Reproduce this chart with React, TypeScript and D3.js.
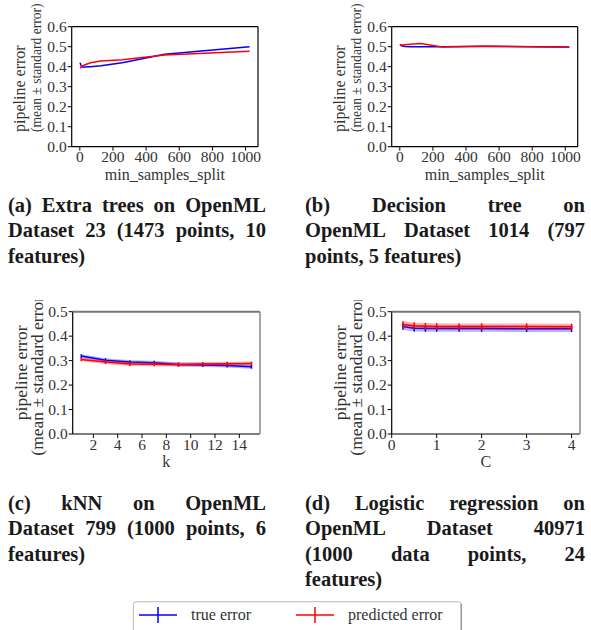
import React from "react";
import * as d3 from "d3";

// ---------- data ----------
const splitsA = [2, 4, 8, 16, 32, 64, 128, 256, 512, 1024];
const trueA = [0.42, 0.413, 0.404, 0.398, 0.398, 0.4, 0.405, 0.42, 0.462, 0.5];
const predA = [0.392, 0.394, 0.398, 0.404, 0.41, 0.42, 0.428, 0.435, 0.459, 0.477];

const splitsB = [2, 4, 8, 16, 32, 64, 128, 256, 512, 1024];
const trueB = [0.512, 0.508, 0.505, 0.503, 0.501, 0.5, 0.5, 0.5, 0.502, 0.499];
const predB = [0.507, 0.507, 0.508, 0.508, 0.51, 0.512, 0.516, 0.498, 0.502, 0.497];

const kC = [1, 3, 5, 7, 9, 11, 13, 15];
const trueC = [0.3185, 0.302, 0.294, 0.291, 0.284, 0.282, 0.28, 0.275];
const predC = [0.305, 0.294, 0.286, 0.285, 0.284, 0.286, 0.287, 0.288];
const seC = [0.008, 0.008, 0.008, 0.008, 0.008, 0.008, 0.008, 0.008];

const cD = [0.25, 0.5, 0.75, 1, 1.5, 2, 3, 4];
const trueD = [0.439, 0.432, 0.431, 0.431, 0.431, 0.431, 0.43, 0.43];
const predD = [0.448, 0.443, 0.441, 0.44, 0.439, 0.439, 0.439, 0.438];
const seD = [0.013, 0.013, 0.013, 0.013, 0.013, 0.013, 0.013, 0.013];

const ticksXAB = [0, 200, 400, 600, 800, 1000];
const ticksYAB = [0, 0.1, 0.2, 0.3, 0.4, 0.5, 0.6];
const ticksXC = [2, 4, 6, 8, 10, 12, 14];
const ticksXD = [0, 1, 2, 3, 4];
const ticksYCD = [0, 0.1, 0.2, 0.3, 0.4, 0.5];

const captionA = ["(a) Extra trees on OpenML", "Dataset 23 (1473 points, 10", "features)"];
const captionB = ["(b) Decision tree on", "OpenML Dataset 1014 (797", "points, 5 features)"];
const captionC = ["(c) kNN on OpenML", "Dataset 799 (1000 points, 6", "features)"];
const captionD = ["(d) Logistic regression on", "OpenML Dataset 40971", "(1000 data points, 24", "features)"];

const legendLabels = ["true error", "predicted error"];
const BLUE = "#0000ff";
const RED = "#ff0000";
const SERIF = "Liberation Serif";

type PanelSpec = {
  box: [number, number, number, number];
  xDomain: [number, number];
  yDomain: [number, number];
  xTicks: number[];
  yTicks: number[];
  xs: number[];
  t: number[];
  p: number[];
  se?: number[];
  xlabel: string;
  xlabelY: number;
  clipTop: number;
  grayTop?: boolean;
  labelFont: number;
  labelFont2: number;
  labelX: number;
  labelGap: number;
  labelBottom?: number;
};

function Panel({ s, id }: { s: PanelSpec; id: string }) {
  const [x0, y0, x1, y1] = s.box;
  const x = d3.scaleLinear().domain(s.xDomain).range([x0, x1]);
  const y = d3.scaleLinear().domain(s.yDomain).range([y1, y0]);
  const line = d3
    .line<number>()
    .x((_, i) => x(s.xs[i]))
    .y((v) => y(v));
  const area = (vals: number[]) =>
    d3
      .area<number>()
      .x((_, i) => x(s.xs[i]))
      .y0((v, i) => y(v - (s.se ? s.se[i] : 0)))
      .y1((v, i) => y(v + (s.se ? s.se[i] : 0)))(vals) || "";
  const cx = (x0 + x1) / 2;
  const cy = (y0 + y1) / 2;
  const series = [
    { v: s.t, c: BLUE },
    { v: s.p, c: RED },
  ];
  const anchor = s.labelBottom !== undefined ? "start" : "middle";
  const ly = s.labelBottom !== undefined ? s.labelBottom : cy;
  return (
    <g>
      <clipPath id={id}>
        <rect x={0} y={s.clipTop} width={591} height={300} />
      </clipPath>
      <g clipPath={`url(#${id})`} fill="#333" style={{ fontFamily: SERIF }}>
        <g transform={`translate(${s.labelX},${ly}) rotate(-90)`}>
          <text textAnchor={anchor} x={0} y={0} fontSize={s.labelFont}>pipeline error</text>
          <text textAnchor={anchor} x={0} y={s.labelGap} fontSize={s.labelFont2}>(mean ± standard error)</text>
        </g>
      </g>
      {series.map((sr, k) => (
        <g key={k}>
          {s.se && <path d={area(sr.v)} fill={sr.c} opacity={0.3} />}
          <path d={line(sr.v) || ""} fill="none" stroke={sr.c} strokeWidth={1.5} />
          {s.se &&
            sr.v.map((v, i) => (
              <line
                key={i}
                x1={x(s.xs[i])}
                x2={x(s.xs[i])}
                y1={y(v - s.se![i])}
                y2={y(v + s.se![i])}
                stroke={sr.c}
                strokeWidth={1.5}
              />
            ))}
        </g>
      ))}
      <line x1={x0} x2={x0} y1={y0} y2={y1} stroke="#000" strokeWidth={1.2} />
      <line x1={x0} x2={x1} y1={y1} y2={y1} stroke="#000" strokeWidth={1.2} />
      <line x1={x0} x2={x1} y1={y0} y2={y0} stroke={s.grayTop ? "#777" : "#000"} strokeWidth={s.grayTop ? 2 : 1.2} />
      <line x1={x1} x2={x1} y1={y0} y2={y1} stroke={s.grayTop ? "#888" : "#000"} strokeWidth={s.grayTop ? 1.5 : 1.2} />
      <g style={{ fontFamily: SERIF }} fontSize={15.5} fill="#333">
        {s.xTicks.map((t) => (
          <g key={"x" + t}>
            <line x1={x(t)} x2={x(t)} y1={y1} y2={y1 + 4} stroke="#000" />
            <text x={x(t)} y={y1 + 15.5} textAnchor="middle">{String(t)}</text>
          </g>
        ))}
        {s.yTicks.map((t) => (
          <g key={"y" + t}>
            <line x1={x0 - 4} x2={x0} y1={y(t)} y2={y(t)} stroke="#000" />
            <text x={x0 - 5} y={y(t) + 5.3} textAnchor="end">{d3.format(".1f")(t)}</text>
          </g>
        ))}
        <text x={cx} y={s.xlabelY} textAnchor="middle" fontSize={16}>{s.xlabel}</text>
      </g>
    </g>
  );
}

let ctx: CanvasRenderingContext2D | null = null;
function measure(word: string, font: string) {
  if (!ctx) ctx = document.createElement("canvas").getContext("2d");
  if (!ctx) return word.length * 9;
  ctx.font = font;
  return ctx.measureText(word).width;
}

function Caption({ lines, x0, x1, y0 }: { lines: string[]; x0: number; x1: number; y0: number }) {
  const fs = 20.5;
  const font = `bold ${fs}px "Liberation Serif"`;
  const lh = 25.3;
  return (
    <g style={{ fontFamily: SERIF }} fontWeight="bold" fontSize={fs} fill="#1a1a1a">
      {lines.map((ln, li) => {
        const words = ln.split(" ");
        const last = li === lines.length - 1;
        const widths = words.map((w) => measure(w, font));
        const total = widths.reduce((a, b) => a + b, 0);
        const space = measure(" ", font);
        const gap = last || words.length < 2 ? space : (x1 - x0 - total) / (words.length - 1);
        let cur = x0;
        return words.map((w, i) => {
          const px = cur;
          cur += widths[i] + gap;
          return (
            <text key={li + "-" + i} x={px} y={y0 + li * lh}>
              {w}
            </text>
          );
        });
      })}
    </g>
  );
}

export default function App() {
  const A: PanelSpec = {
    box: [71.7, 26.7, 258, 146.7],
    xDomain: [-49, 1075],
    yDomain: [0, 0.6],
    xTicks: ticksXAB,
    yTicks: ticksYAB,
    xs: splitsA,
    t: trueA,
    p: predA,
    xlabel: "min_samples_split",
    xlabelY: 180,
    clipTop: 0,
    labelFont: 16,
    labelFont2: 13.6,
    labelX: 25,
    labelGap: 16,
    labelBottom: 132,
  };
  const B: PanelSpec = {
    ...A,
    box: [391.7, 26.7, 577.7, 146.7],
    xs: splitsB,
    t: trueB,
    p: predB,
    labelX: 345,
  };
  const C: PanelSpec = {
    box: [72.7, 311.7, 260, 434],
    xDomain: [0.3, 15.7],
    yDomain: [0, 0.5],
    xTicks: ticksXC,
    yTicks: ticksYCD,
    xs: kC,
    t: trueC,
    p: predC,
    se: seC,
    xlabel: "k",
    xlabelY: 467,
    clipTop: 300,
    grayTop: true,
    labelFont: 17.5,
    labelFont2: 17.5,
    labelX: 27,
    labelGap: 16,
  };
  const D: PanelSpec = {
    ...C,
    box: [391.7, 311.7, 580, 434],
    xDomain: [0, 4.1875],
    xTicks: ticksXD,
    xs: cD,
    t: trueD,
    p: predD,
    se: seD,
    xlabel: "C",
    labelX: 346,
  };
  return (
    <svg width={591} height={630} style={{ position: "absolute", left: 0, top: 0, background: "#fff" }}>
      <rect width={591} height={630} fill="#fff" />
      <Panel s={A} id="clipA" />
      <Panel s={B} id="clipB" />
      <Panel s={C} id="clipC" />
      <Panel s={D} id="clipD" />
      <Caption lines={captionA} x0={8} x1={266} y0={212} />
      <Caption lines={captionB} x0={305} x1={585} y0={212} />
      <Caption lines={captionC} x0={8} x1={266} y0={510} />
      <Caption lines={captionD} x0={305} x1={585} y0={510} />
      <g style={{ fontFamily: SERIF }} fontSize={16} fill="#333">
        <rect x={133.3} y={601.7} width={328} height={40} rx={3} fill="#fff" stroke="#bbb" />
        <line x1={461.3} x2={461.3} y1={604} y2={630} stroke="#999" strokeWidth={1.5} />
        {legendLabels.map((lab, i) => {
          const lx = i === 0 ? 139 : 296;
          const c = i === 0 ? BLUE : RED;
          return (
            <g key={lab}>
              <line x1={lx} x2={lx + 38} y1={615} y2={615} stroke={c} strokeWidth={1.5} />
              <line x1={lx + 19} x2={lx + 19} y1={607} y2={623} stroke={c} strokeWidth={1.5} />
              <text x={lx + 52} y={620}>{lab}</text>
            </g>
          );
        })}
      </g>
    </svg>
  );
}
